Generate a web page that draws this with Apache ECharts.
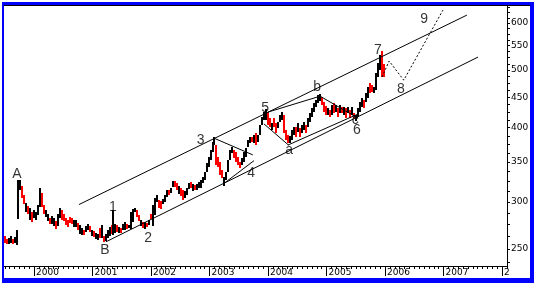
<!DOCTYPE html>
<html><head><meta charset="utf-8">
<script src="https://cdn.jsdelivr.net/npm/echarts@6/dist/echarts.min.js"></script>
<style>html,body{margin:0;padding:0;background:#fff}#c{width:534px;height:283px}</style>
</head><body><div id="c"></div>
<script>
// ---- price bars: [decimal year, high, low, direction(1 up / -1 down)] ----
const priceBars = [
[1999.47,262,254,1],[1999.50,263,256,-1],[1999.54,260,255,-1],[1999.57,261,255,1],[1999.61,263,256,1],
[1999.64,260,255,-1],[1999.68,262,256,1],[1999.71,269,254,1],[1999.73,327,281,1],[1999.76,327,314,1],
[1999.80,319,305,-1],[1999.83,308,297,-1],[1999.86,299,289,1],[1999.90,295,286,-1],[1999.93,293,280,1],
[1999.97,289,278,-1],[2000.00,291,282,1],[2000.03,289,280,1],[2000.07,297,286,1],[2000.10,317,295,1],
[2000.14,311,294,-1],[2000.17,297,287,-1],[2000.21,291,283,1],[2000.24,286,278,1],[2000.27,282,275,-1],
[2000.31,284,275,1],[2000.34,282,273,1],[2000.38,279,271,-1],[2000.41,286,273,1],[2000.44,293,282,1],
[2000.48,291,280,-1],[2000.51,286,278,-1],[2000.55,282,274,-1],[2000.58,280,272,-1],[2000.62,283,276,-1],
[2000.65,282,275,-1],[2000.68,280,273,1],[2000.72,280,272,1],[2000.75,276,269,-1],[2000.79,274,265,1],
[2000.82,271,264,1],[2000.85,269,264,-1],[2000.89,273,267,1],[2000.92,275,269,1],[2000.96,273,267,-1],
[2000.99,269,263,1],[2001.03,268,262,-1],[2001.06,266,260,1],[2001.09,265,259,1],[2001.13,271,261,-1],
[2001.16,274,261,1],[2001.20,263,257,-1],[2001.23,265,258,1],[2001.27,269,261,1],[2001.30,272,263,1],
[2001.33,274,265,-1],[2001.35,291,264,1],[2001.38,275,266,1],[2001.42,274,267,-1],[2001.45,272,266,1],
[2001.49,271,266,-1],[2001.52,275,269,1],[2001.56,278,270,1],[2001.59,275,270,-1],[2001.62,274,271,1],
[2001.66,289,271,1],[2001.69,292,278,1],[2001.73,293,289,1],[2001.76,291,283,-1],[2001.79,285,278,-1],
[2001.83,280,274,1],[2001.86,278,272,-1],[2001.90,278,271,1],[2001.93,276,272,-1],[2001.97,280,275,1],
[2002.00,286,280,-1],[2002.03,297,274,1],[2002.07,305,285,1],[2002.10,308,300,1],[2002.14,302,293,-1],
[2002.17,301,292,-1],[2002.21,303,297,1],[2002.24,308,300,1],[2002.27,314,306,1],[2002.31,314,308,-1],
[2002.34,317,311,1],[2002.38,325,317,1],[2002.41,325,317,-1],[2002.44,323,314,-1],[2002.48,319,309,1],
[2002.51,317,307,-1],[2002.55,314,302,-1],[2002.58,313,305,1],[2002.62,317,308,1],[2002.65,323,316,1],
[2002.68,324,317,-1],[2002.72,322,313,1],[2002.75,320,314,-1],[2002.79,322,314,1],[2002.82,324,317,1],
[2002.85,327,317,1],[2002.89,331,323,1],[2002.92,337,327,1],[2002.96,349,337,1],[2002.99,357,344,1],
[2003.03,367,353,1],[2003.06,379,364,1],[2003.08,386,374,1],[2003.11,374,346,-1],[2003.15,357,344,-1],
[2003.18,350,333,-1],[2003.21,340,329,-1],[2003.25,331,320,1],[2003.28,337,327,1],[2003.32,353,337,1],
[2003.35,367,353,1],[2003.38,371,363,1],[2003.42,367,356,-1],[2003.45,364,350,-1],[2003.49,357,346,-1],
[2003.52,350,342,-1],[2003.56,356,346,1],[2003.59,364,350,1],[2003.62,370,357,1],[2003.66,381,371,1],
[2003.69,386,377,1],[2003.73,386,379,-1],[2003.76,389,377,1],[2003.79,392,374,-1],[2003.83,389,379,1],
[2003.86,404,389,1],[2003.90,417,404,1],[2003.93,425,412,1],[2003.97,430,412,1],[2004.00,425,404,-1],
[2004.03,415,400,-1],[2004.07,407,396,1],[2004.10,415,400,-1],[2004.14,407,392,-1],[2004.17,409,400,1],
[2004.21,420,409,1],[2004.24,425,412,1],[2004.27,420,392,-1],[2004.31,396,381,-1],[2004.34,389,377,-1],
[2004.38,387,376,1],[2004.41,396,381,1],[2004.44,401,389,1],[2004.48,401,386,-1],[2004.51,407,393,1],
[2004.55,400,386,-1],[2004.58,404,392,1],[2004.62,409,396,1],[2004.65,404,392,-1],[2004.68,415,401,1],
[2004.72,423,409,1],[2004.75,432,417,1],[2004.79,440,425,1],[2004.82,445,433,1],[2004.85,454,440,1],
[2004.89,456,444,1],[2004.92,451,437,-1],[2004.96,442,425,-1],[2004.99,435,420,-1],[2005.03,432,420,1],
[2005.06,428,417,-1],[2005.09,437,420,1],[2005.13,440,423,-1],[2005.16,437,425,1],[2005.20,432,417,-1],
[2005.23,437,423,1],[2005.27,433,423,-1],[2005.30,433,420,1],[2005.33,432,415,-1],[2005.37,433,423,1],
[2005.40,428,415,-1],[2005.44,433,420,1],[2005.47,423,415,-1],[2005.50,420,411,1],[2005.54,432,417,1],
[2005.57,442,425,1],[2005.61,449,433,1],[2005.64,445,432,-1],[2005.68,458,442,1],[2005.71,468,449,1],
[2005.74,476,458,-1],[2005.78,472,459,-1],[2005.81,468,458,1],[2005.85,494,463,1],[2005.88,514,487,1],
[2005.91,530,500,1],[2005.95,539,487,-1],[2005.98,512,487,-1]
];

// ---- trend / channel lines: [decimal year, price] ----
const channelUpper = [[2000.77,297],[2007.40,619]];
const channelLower = [[2001.23,257],[2007.59,526]];
const triangleUpper = [[2003.08,384],[2003.74,360]];
const triangleLower = [[2003.26,323],[2003.76,352]];
const line5toB = [[2004.00,425],[2004.89,452]];
const line5toA = [[2003.93,406],[2004.35,374]];
const lineAtoC = [[2004.34,374],[2005.52,421]];
const lineBtoC = [[2004.89,452],[2005.54,415]];
const projection = [[2005.95,487],[2006.07,518],[2006.32,481],[2006.99,631]];

// ---- wave labels: [text, decimal year, price] ----
const waveLabels = [
['A',1999.71,334],['B',2001.21,249],['1',2001.35,294],['2',2001.95,261],
['3',2002.85,381],['4',2003.71,336],['5',2003.95,432],['a',2004.36,367],
['b',2004.84,468],['c',2005.49,412],['6',2005.52,396],['7',2005.88,541],
['8',2006.27,465],['9',2006.67,610]
];

// ---- axes ----
const yTickLabels = [250,300,350,400,450,500,550,600];
const yMinorTicks = [237.5,250,262.5,275,287.5,300,312.5,325,337.5,350,362.5,375,387.5,400,412.5,425,437.5,450,462.5,475,487.5,500,512.5,525,537.5,550,562.5,575,587.5,600,612.5,625,637.5];
const yRange = [234.0,641.2];
const xRange = [1999.47,2008.085];
const xYearTicks = [2000,2001,2002,2003,2004,2005,2006,2007,2008];
const xYearLabels = ['2000','2001','2002','2003','2004','2005','2006','2007','2'];

const L = Math.log;
const monthTicks = [];
for (let k = 6; k <= 12 * 9 + 1; k++) monthTicks.push(1999 + k / 12);

const chart = echarts.init(document.getElementById('c'), null, {renderer: 'canvas'});

function lineSeries(pts, dashed) {
  return {
    type: 'line', xAxisIndex: 0, yAxisIndex: 0, silent: true, animation: false,
    showSymbol: false, symbol: 'none', z: 3,
    data: pts.map(p => [p[0], L(p[1])]),
    lineStyle: {color: '#000', width: 1, type: dashed ? [2, 2] : 'solid'}
  };
}

const axisFont = {fontFamily: 'DejaVu Sans', fontSize: 9, color: '#000'};

const option = {
  animation: false,
  backgroundColor: '#fff',
  grid: {left: 3, right: 27, top: 6, bottom: 17},
  xAxis: [{
    type: 'value', min: xRange[0], max: xRange[1], position: 'bottom',
    axisLine: {show: true, lineStyle: {color: '#000', width: 1}},
    axisTick: {show: true, length: 3, customValues: monthTicks, lineStyle: {color: '#000'}},
    axisLabel: Object.assign({
      customValues: xYearTicks,
      formatter: v => xYearLabels[xYearTicks.indexOf(Math.round(v))],
      align: 'left', padding: [0, 0, 0, 2], margin: 2
    }, axisFont),
    splitLine: {show: false}
  }, {
    type: 'value', min: xRange[0], max: xRange[1], position: 'bottom',
    axisLine: {show: false},
    axisTick: {show: true, length: 10, customValues: xYearTicks, lineStyle: {color: '#000'}},
    axisLabel: {show: false},
    splitLine: {show: false}
  }],
  yAxis: {
    type: 'value', position: 'right', min: L(yRange[0]), max: L(yRange[1]),
    axisLine: {show: true, lineStyle: {color: '#000', width: 1}},
    axisTick: {show: true, inside: false, length: 3, customValues: yMinorTicks.map(L), lineStyle: {color: '#000'}},
    axisLabel: Object.assign({
      customValues: yTickLabels.map(L),
      formatter: v => String(Math.round(Math.exp(v))),
      margin: 4
    }, axisFont),
    splitLine: {show: false}
  },
  series: [
    {
      type: 'custom', xAxisIndex: 0, yAxisIndex: 0, silent: true, animation: false, z: 2,
      data: priceBars.map(b => [b[0], L(b[1]), L(b[2]), b[3]]),
      encode: {x: 0, y: [1, 2]},
      renderItem: function (params, api) {
        const x = api.value(0);
        const top = api.coord([x, api.value(1)]);
        const bot = api.coord([x, api.value(2)]);
        return {
          type: 'rect',
          shape: {x: Math.round(top[0]) - 1, y: Math.round(top[1]), width: 2, height: Math.max(1, Math.round(bot[1] - top[1]))},
          style: {fill: api.value(3) > 0 ? '#000000' : '#ff0000'}
        };
      }
    },
    lineSeries(channelUpper), lineSeries(channelLower),
    lineSeries(triangleUpper), lineSeries(triangleLower),
    lineSeries(line5toB), lineSeries(line5toA),
    lineSeries(lineAtoC), lineSeries(lineBtoC),
    lineSeries(projection, true),
    {
      type: 'scatter', xAxisIndex: 0, yAxisIndex: 0, silent: true, animation: false, z: 5,
      symbolSize: 1, itemStyle: {color: 'rgba(0,0,0,0)'},
      data: waveLabels.map(w => ({name: w[0], value: [w[1], L(w[2])]})),
      label: {show: true, position: 'inside', formatter: '{b}', fontFamily: 'Liberation Sans', fontSize: 14, color: '#000'}
    }
  ],
  graphic: [
    {type: 'rect', silent: true, z: 100, shape: {x: 2, y: 2, width: 532, height: 3}, style: {fill: '#0000ff'}},
    {type: 'rect', silent: true, z: 100, shape: {x: 4, y: 5, width: 526, height: 1}, style: {fill: '#000000'}},
    {type: 'rect', silent: true, z: 100, shape: {x: 2, y: 2, width: 2, height: 281}, style: {fill: '#0000ff'}},
    {type: 'rect', silent: true, z: 100, shape: {x: 530, y: 2, width: 4, height: 281}, style: {fill: '#0000ff'}},
    {type: 'rect', silent: true, z: 100, shape: {x: 2, y: 278, width: 532, height: 5}, style: {fill: '#0000ff'}}
  ]
};
chart.setOption(option);
</script>
</body></html>
